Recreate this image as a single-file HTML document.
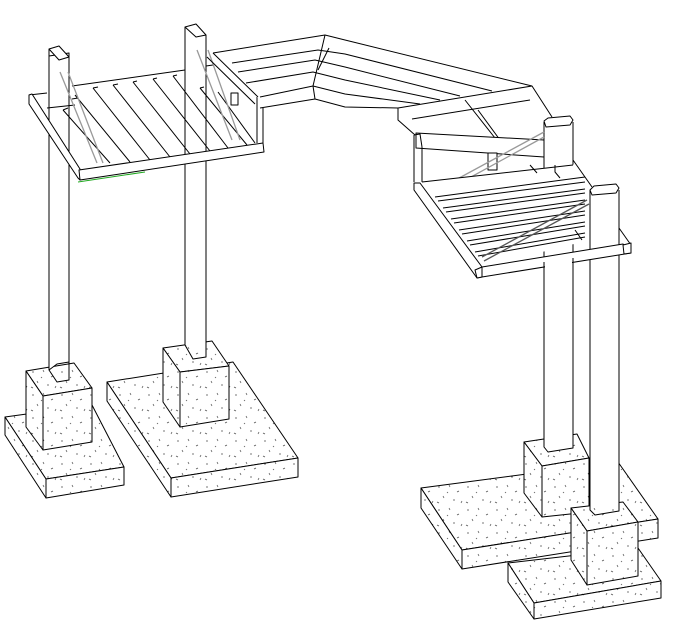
<!DOCTYPE html>
<html><head><meta charset="utf-8"><style>html,body{margin:0;padding:0;background:#fff}svg{display:block}</style></head><body>
<svg width="691" height="638" viewBox="0 0 691 638" xmlns="http://www.w3.org/2000/svg">
<defs>
<pattern id="sp" width="29" height="23" patternUnits="userSpaceOnUse">
<rect width="29" height="23" fill="#fff"/>
<g stroke="#555" stroke-width="0.8">
<line x1="3" y1="4" x2="5" y2="4"/><line x1="14" y1="2" x2="15" y2="4"/><line x1="22" y1="9" x2="24" y2="8"/><line x1="8" y1="13" x2="9" y2="15"/><line x1="18" y1="17" x2="20" y2="17"/><line x1="26" y1="20" x2="27" y2="18"/><line x1="2" y1="19" x2="4" y2="20"/><line x1="12" y1="9" x2="13" y2="10"/>
</g></pattern>
</defs>
<g fill="none" stroke="#000" stroke-width="1" stroke-linejoin="round">

<!-- ===== Left footing A ===== -->
<polygon points="5,417 92,405 124,467 46,479" fill="url(#sp)"/>
<polygon points="46,479 124,467 124,485 46,498" fill="url(#sp)"/>
<polygon points="5,417 46,479 46,498 5,435" fill="url(#sp)"/>
<polygon points="26,371 74,363 92,388 43,396" fill="url(#sp)"/>
<polygon points="43,396 92,388 92,442 43,450" fill="url(#sp)"/>
<polygon points="26,371 43,396 43,450 26,427" fill="url(#sp)"/>
<!-- post A -->
<polygon points="49,56 69,53 69,362 57,364 49,370" fill="#fff"/>
<path d="M49,370 L57,382 L69,380 L69,362"/>
<polygon points="49,49 59,46 69,57 59,60" fill="#fff"/>
<line x1="49" y1="49" x2="49" y2="370"/>

<!-- ===== Footing B ===== -->
<polygon points="107,382 233,362 298,458 171,478" fill="url(#sp)"/>
<polygon points="171,478 298,458 298,477 171,497" fill="url(#sp)"/>
<polygon points="107,382 171,478 171,497 107,401" fill="url(#sp)"/>
<polygon points="163,348 212,341 229,366 180,372" fill="url(#sp)"/>
<polygon points="180,372 229,366 229,419 180,427" fill="url(#sp)"/>
<polygon points="163,348 180,372 180,427 163,402" fill="url(#sp)"/>
<!-- post B -->
<polygon points="185,30 206,30 206,348 185,345" fill="#fff" stroke="none"/>
<path d="M185,27 L185,345 L193,359 L206,357 L206,348 M206,35 L206,348"/>
<polygon points="185,27 196,24 206,35 196,37" fill="#fff"/>

<!-- ===== Left deck ===== -->
<path d="M29,95 L47,93 M72,86 L185,70 M206,66 L213,65"/>
<polygon points="29,95 32,94 80,169 80,180 78,178 29,104" fill="#fff"/>
<g>
<path d="M63,110 L110,163 M63,110 L68,108"/>
<path d="M75,95 L130,162 M72,99 L78,98"/>
<path d="M93,88 L150,160 M93,88 L98,87"/>
<path d="M113,85 L170,157 M113,85 L118,84"/>
<path d="M133,82 L190,154 M133,82 L137,81"/>
<path d="M153,79 L210,151 M153,79 L157,78"/>
<path d="M173,76 L228,148 M173,76 L177,75"/>
<path d="M200,88 L247,145 M200,88 L204,87"/>
<path d="M218,92 L255,143"/>
<path d="M47,108 L75,105"/>
</g>
<g stroke="#999" stroke-width="1.3">
<line x1="60" y1="72" x2="97" y2="163"/><line x1="68" y1="72" x2="103" y2="163"/>
<line x1="197" y1="50" x2="232" y2="140"/><line x1="208" y1="50" x2="240" y2="140"/>
</g>
<polygon points="79,170 263,143 264,152 80,180" fill="#fff"/>
<line x1="78" y1="182" x2="145" y2="172" stroke="#2a2"/>
<rect x="231" y="93" width="7" height="12" fill="#fff"/>
<path d="M257,97 L257,143 M263,108 L263,143"/>

<!-- ===== Bridge ===== -->
<polygon points="213,53 325,35 345,40 532,86 498,92 398,108 398,120 315,99 263,108 257,97" fill="#fff" stroke="none"/>
<path d="M213,53 L325,35 L345,40 L532,86"/>
<path d="M213,53 L258,97 M207,57 L255,104"/>
<path d="M232,63 L318,50 L345,54 L492,91"/>
<path d="M238,72 L315,60 L345,67 L460,96"/>
<path d="M246,83 L313,72 L345,80 L440,100"/>
<path d="M260,97 L313,86 L345,94 L420,104"/>
<path d="M260,108 L315,99 L345,107 L398,108"/>
<path d="M325,35 L313,86 M313,86 L315,99 M329,48 L318,70"/>

<!-- ===== Right footing C ===== -->
<polygon points="421,488 618,462 658,519 462,550" fill="url(#sp)"/>
<polygon points="462,550 658,519 658,538 462,569" fill="url(#sp)"/>
<polygon points="421,488 462,550 462,569 421,508" fill="url(#sp)"/>
<polygon points="524,442 577,434 589,458 542,466" fill="url(#sp)"/>
<polygon points="542,466 589,458 589,512 542,517" fill="url(#sp)"/>
<polygon points="524,442 542,466 542,517 524,493" fill="url(#sp)"/>
<!-- post D -->
<rect x="544" y="122" width="29" height="326" fill="#fff" stroke="none"/>
<path d="M544,122 L544,447 L548,452 L573,448 L573,122"/>
<polygon points="544,121 548,118 570,116 573,120 570,125 546,127" fill="#fff"/>

<!-- ===== Footing D ===== -->
<polygon points="508,563 638,548 661,581 534,603" fill="url(#sp)"/>
<polygon points="534,603 661,581 661,598 534,619" fill="url(#sp)"/>
<polygon points="508,563 534,603 534,619 508,582" fill="url(#sp)"/>
<polygon points="571,508 623,502 638,522 587,531" fill="url(#sp)"/>
<polygon points="587,531 638,522 638,576 587,585" fill="url(#sp)"/>
<polygon points="571,508 587,531 587,585 571,560" fill="url(#sp)"/>

<!-- ===== Right deck upper frame ===== -->
<path d="M398,108 L532,86 L552,117 M398,108 L398,120 L415,135 M412,119 L530,100"/>
<path d="M465,100 L495,138 M478,110 L500,140"/>
<polygon points="416,133 544,140 544,157 416,148" fill="#fff"/>
<rect x="488" y="153" width="9" height="17" fill="#fff"/>
<path d="M414,135 L414,182 M422,147 L422,182 M414,135 L420,134 L422,147"/>
<g stroke="#999" stroke-width="1.3"><line x1="437" y1="190" x2="544" y2="132"/><line x1="440" y1="194" x2="544" y2="137"/></g>
<!-- right deck surface (occludes post D) -->
<polygon points="414,183 587,163 590,240 482,267" fill="#fff" stroke="none"/>
<path d="M422,182 L573,165 M555,165 L555,172 L560,178 M530,165 L537,173"/>
<polygon points="414,183 420,183 482,267 482,277 477,278 414,190" fill="#fff"/>
<path d="M435,197 L585,177 M438,201 L585,182"/>
<path d="M443,208 L585,189 M446,212 L585,193"/>
<path d="M451,219 L585,200 M454,223 L585,204"/>
<path d="M459,230 L585,211 M462,234 L585,215"/>
<path d="M467,241 L585,222 M470,245 L585,226"/>
<path d="M475,252 L585,233 M478,256 L585,237"/>
<path d="M573,160 L592,187 M575,230 L582,240"/>
<g stroke="#555" stroke-width="1.3"><line x1="482" y1="257" x2="587" y2="200"/><line x1="484" y1="261" x2="589" y2="204"/></g>
<!-- post C -->
<rect x="590" y="190" width="29" height="318" fill="#fff" stroke="none"/>
<path d="M590,190 L590,510 L595,515 L619,511 L619,190"/>
<path d="M619,228 L631,245"/>
<polygon points="482,267 623,244 631,253 482,277" fill="#fff"/>
<polygon points="475,270 482,267 482,277 477,278" fill="#fff"/>
<polygon points="623,245 631,243 631,253 624,254" fill="#fff"/>
<polygon points="590,190 594,186 616,184 619,188 616,193 592,195" fill="#fff"/>
<!-- redraw post D lower part below deck -->
<rect x="545" y="262" width="27" height="180" fill="#fff" stroke="none"/>
<path d="M544,262 L544,447 M573,258 L573,448"/>
</g>
</svg>
</body></html>
